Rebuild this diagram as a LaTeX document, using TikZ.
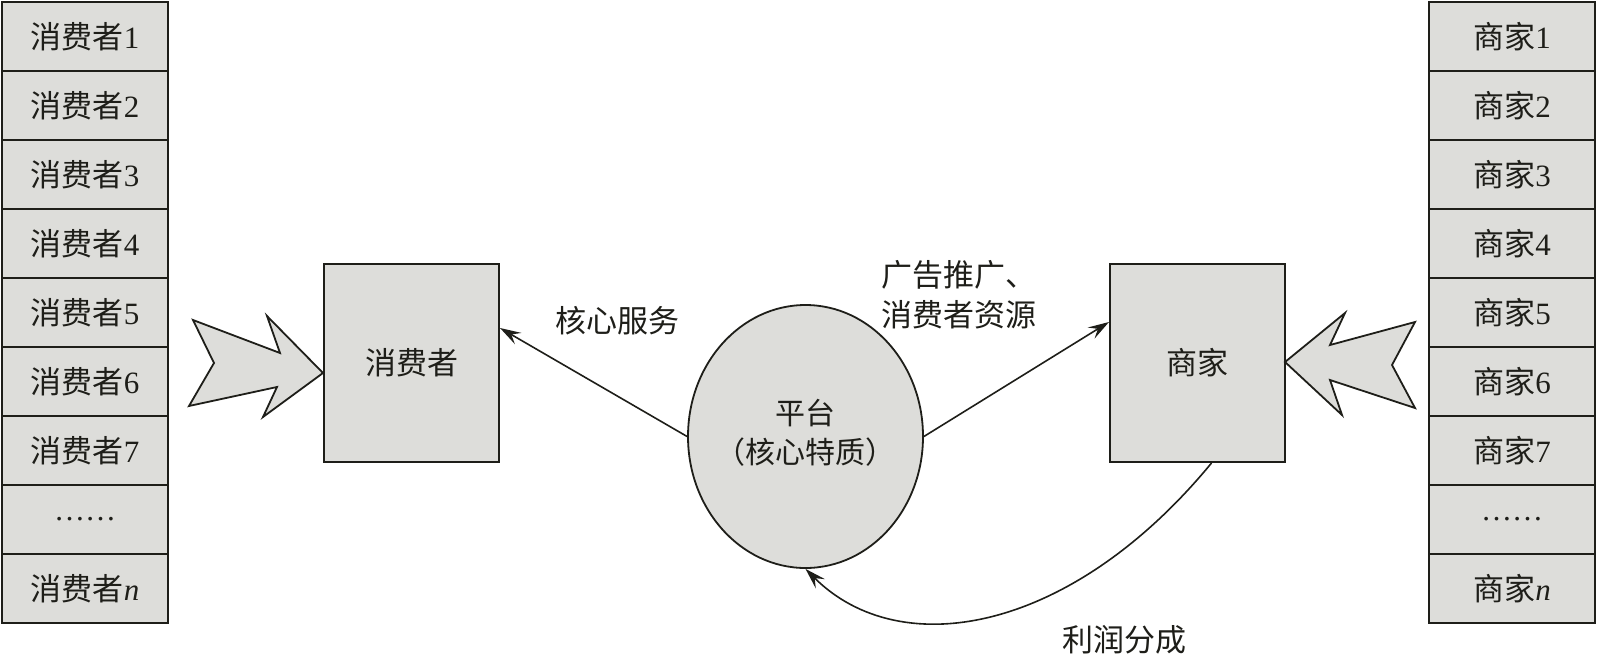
\documentclass[tikz,border=0pt]{standalone}
\usepackage{fontspec}
\setmainfont{Liberation Serif}
\newfontfamily\cjk{Noto Sans CJK SC}
\usetikzlibrary{shapes.geometric,arrows.meta}
\definecolor{boxgray}{RGB}{221,221,218}
\definecolor{ink}{RGB}{30,30,25}
\tikzset{
  cell/.style={draw=ink, fill=boxgray, line width=2pt, minimum width=166pt, minimum height=69pt, inner sep=0pt, text=ink, font=\fontsize{31}{36}\selectfont},
  bigbox/.style={draw=ink, fill=boxgray, line width=2pt, minimum width=175pt, minimum height=198pt, inner sep=0pt, text=ink, font=\fontsize{31}{36}\selectfont},
  platform/.style={ellipse, draw=ink, fill=boxgray, line width=1.8pt, minimum width=235pt, minimum height=263pt, inner sep=0pt, text=ink, font=\fontsize{30}{39}\selectfont},
  lbl/.style={text=ink, inner sep=0pt, font=\fontsize{31}{40}\selectfont},
  conn/.style={draw=ink, line width=1.6pt, -{Stealth[length=21pt,width=13pt,inset=8pt]}},
  fatarrow/.style={draw=ink, fill=boxgray, line width=1.8pt, line join=miter}
}
\begin{document}
\begin{tikzpicture}[x=1pt,y=-1pt]
\useasboundingbox (0,0) rectangle (1597,656);
% consumer column
\foreach \i in {1,...,7}
  \node[cell] (c\i) at (85,{36.5+69*(\i-1)}) {{\cjk 消费者}\i};
\node[cell] (c8) at (85,519.5) {……};
\node[cell] (c9) at (85,588.5) {{\cjk 消费者}\textit{n}};
% merchant column
\foreach \i in {1,...,7}
  \node[cell] (m\i) at (1512,{36.5+69*(\i-1)}) {{\cjk 商家}\i};
\node[cell] (m8) at (1512,519.5) {……};
\node[cell] (m9) at (1512,588.5) {{\cjk 商家}\textit{n}};
% main boxes
\node[bigbox] (cons) at (411.5,363) {\cjk 消费者};
\node[bigbox] (merch) at (1197.5,363) {\cjk 商家};
\node[platform] (plat) at (805.5,436.5) {\makebox[0pt]{\cjk\begin{tabular}{@{}c@{}}平台\\（核心特质）\end{tabular}}};
% fat arrows
\draw[fatarrow] (323,373) -- (267,316) -- (280,353) -- (193,320) -- (214,363) -- (189,406) -- (277,387) -- (263,417) -- cycle;
\draw[fatarrow] (1285,362) -- (1345,313) -- (1330,345) -- (1415,322) -- (1392,365) -- (1415,408) -- (1330,380) -- (1342,415) -- cycle;
% connectors
\draw[conn] (plat.west) -- ([yshift=35pt]cons.east);
\draw[conn] (plat.east) -- ([yshift=41pt]merch.west);
\draw[conn] ([xshift=14pt]merch.south) .. controls +(-140,170) and +(95,95) .. (plat.south);
% labels
\node[lbl] (l1) at (617,321) {\cjk 核心服务};
\node[lbl, anchor=west, align=left] (l2) at (881,295) {\cjk 广告推广、\\\cjk 消费者资源};
\node[lbl] (l3) at (1124,640) {\cjk 利润分成};
\end{tikzpicture}
\end{document}
